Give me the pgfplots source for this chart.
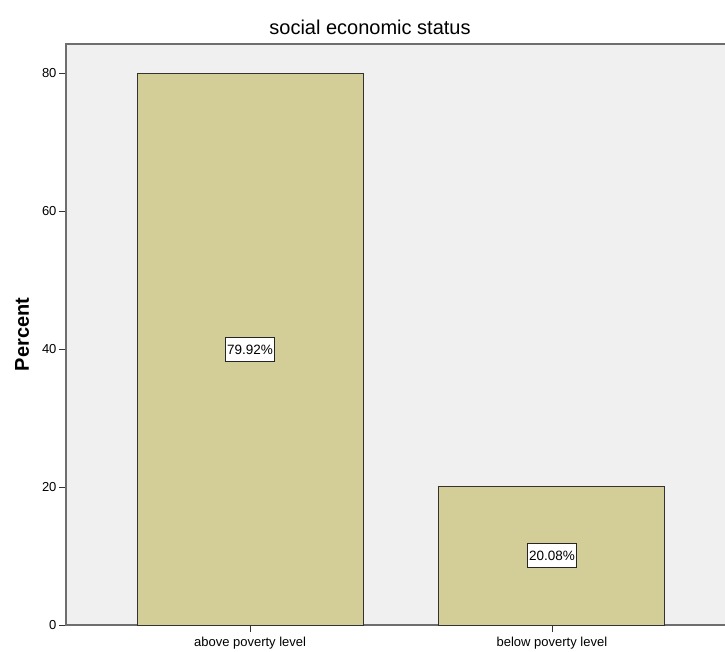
\documentclass[border=0pt]{standalone}
\usepackage{fontspec}
\setmainfont{Liberation Sans}
\usepackage{pgfplots}
\pgfplotsset{compat=1.18}

\definecolor{plotbg}{RGB}{240,240,240}
\definecolor{barfill}{RGB}{211,206,151}
\definecolor{framegray}{RGB}{110,110,110}

\begin{document}
\begin{tikzpicture}
  % page is cut at the right like the original export
  \useasboundingbox (-66pt,-26pt) rectangle (659pt,625pt);
  \begin{axis}[
      scale only axis,
      width=670pt, height=581pt,
      xmin=-0.61, xmax=1.61,
      ymin=0, ymax=84.2,
      ybar, bar width=226pt,
      axis background/.style={fill=plotbg},
      axis line style={draw=framegray, line width=1.3pt},
      xtick={0,1},
      xticklabels={above poverty level, below poverty level},
      ytick={0,20,40,60,80},
      xtick pos=left, ytick pos=left,
      tick align=outside,
      major tick length=7pt,
      tick style={black!80, line width=0.8pt},
      ticklabel style={font=\fontsize{13}{15}\selectfont},
      xticklabel style={yshift=-2pt},
      yticklabel style={xshift=1pt},
      /pgf/number format/assume math mode=true,
      visualization depends on={rawy/2 \as \halfy},
      nodes near coords={\pgfmathprintnumber[fixed,precision=2,fixed zerofill]{\pgfplotspointmeta}\%},
      every node near coord/.append style={
        anchor=center,
        shift={(axis direction cs:0,-\halfy)},
        fill=white, draw=black!85, line width=1pt,
        font=\fontsize{13.5}{15}\selectfont,
        inner xsep=2pt, text height=9.5pt, text depth=0pt, minimum height=24pt},
    ]
    \addplot[fill=barfill, draw=black!80, line width=1pt] coordinates {
      (0,79.92)
      (1,20.08)
    };
  \end{axis}
  \node[anchor=base, font=\fontsize{20}{24}\selectfont] at (304pt,590pt) {social economic status};
  \node[rotate=90, font=\bfseries\fontsize{20}{24}\selectfont] at (-44pt,290.5pt) {Percent};
\end{tikzpicture}
\end{document}
